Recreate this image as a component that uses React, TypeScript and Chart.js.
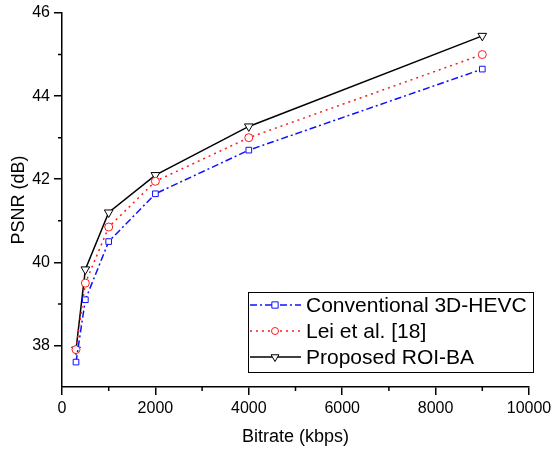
import React, { useEffect, useRef } from "react";
import { Chart, registerables } from "chart.js";

Chart.register(...registerables);

const bitrates = [300, 500, 1000, 2000, 4000, 9000];
const conventional = [37.6, 39.1, 40.5, 41.65, 42.7, 44.65];
const lei = [37.9, 39.5, 40.85, 41.95, 43.0, 45.0];
const proposed = [37.9, 39.83, 41.2, 42.1, 43.27, 45.45];
const seriesNames = ["Conventional 3D-HEVC", "Lei et al. [18]", "Proposed ROI-BA"];
const xMinorTicks = [1000, 3000, 5000, 7000, 9000];
const yMinorTicks = [39, 41, 43, 45];

const FONT = "Arial, 'Liberation Sans', sans-serif";

const styles = [
  { color: "#1010ff", dash: [7, 3, 2, 3], point: "rect", rotation: 0, radius: 4 },
  { color: "#ff1a1a", dash: [2, 4], point: "circle", rotation: 0, radius: 4 },
  { color: "#000000", dash: [], point: "triangle", rotation: 180, radius: 5 },
];

function drawMarker(ctx: CanvasRenderingContext2D, kind: string, x: number, y: number, r: number) {
  ctx.beginPath();
  if (kind === "rect") {
    ctx.rect(x - r * 0.9, y - r * 0.9, r * 1.8, r * 1.8);
  } else if (kind === "circle") {
    ctx.arc(x, y, r, 0, Math.PI * 2);
  } else {
    ctx.moveTo(x, y + r);
    ctx.lineTo(x - r * 0.87, y - r * 0.5);
    ctx.lineTo(x + r * 0.87, y - r * 0.5);
    ctx.closePath();
  }
  ctx.fillStyle = "#fff";
  ctx.fill();
  ctx.stroke();
}

const extras = {
  id: "extras",
  afterDraw(chart: any) {
    const ctx = chart.ctx as CanvasRenderingContext2D;
    const xs = chart.scales.x;
    const ys = chart.scales.y;
    const area = chart.chartArea;
    ctx.save();
    ctx.strokeStyle = "#000";
    ctx.lineWidth = 1.5;
    ctx.beginPath();
    for (const v of xMinorTicks) {
      const px = xs.getPixelForValue(v);
      ctx.moveTo(px, area.bottom);
      ctx.lineTo(px, area.bottom + 4);
    }
    for (const v of yMinorTicks) {
      const py = ys.getPixelForValue(v);
      ctx.moveTo(area.left, py);
      ctx.lineTo(area.left - 4, py);
    }
    ctx.stroke();

    // legend
    const bx = area.right - 281;
    const by = area.bottom - 95;
    const bw = 285;
    const bh = 80;
    ctx.lineWidth = 1;
    ctx.fillStyle = "#fff";
    ctx.fillRect(bx, by, bw, bh);
    ctx.strokeStyle = "#000";
    ctx.strokeRect(bx + 0.5, by + 0.5, bw, bh);
    ctx.font = `21px ${FONT}`;
    ctx.textBaseline = "middle";
    seriesNames.forEach((name, i) => {
      const s = styles[i];
      const cy = by + 13 + i * 26;
      ctx.strokeStyle = s.color;
      ctx.lineWidth = 1.5;
      ctx.setLineDash(s.dash);
      ctx.beginPath();
      ctx.moveTo(bx + 2, cy);
      ctx.lineTo(bx + 53, cy);
      ctx.stroke();
      ctx.setLineDash([]);
      ctx.lineWidth = 1;
      drawMarker(ctx, s.point, bx + 27, cy, s.radius - 0.5);
      ctx.fillStyle = "#000";
      ctx.fillText(name, bx + 58, cy + 1);
    });
    ctx.restore();
  },
};

export default function App() {
  const ref = useRef<HTMLCanvasElement>(null);
  useEffect(() => {
    document.body.style.margin = "0";
    const seriesValues = [conventional, lei, proposed];
    const chart = new Chart(ref.current!, {
      type: "line",
      data: {
        datasets: seriesValues.map((vals, i) => ({
          label: seriesNames[i],
          data: bitrates.map((b, j) => ({ x: b, y: vals[j] })),
          borderColor: styles[i].color,
          backgroundColor: "#ffffff",
          borderDash: styles[i].dash,
          borderWidth: 1.5,
          pointStyle: styles[i].point as any,
          pointRotation: styles[i].rotation,
          pointRadius: styles[i].radius,
          pointBorderWidth: 1,
          pointBackgroundColor: "#ffffff",
          pointBorderColor: styles[i].color,
          tension: 0,
          fill: false,
        })),
      },
      options: {
        animation: false,
        responsive: false,
        layout: { padding: { top: 13, right: 23, left: 0, bottom: 0 } },
        plugins: { legend: { display: false }, tooltip: { enabled: false } },
        scales: {
          x: {
            type: "linear",
            min: 0,
            max: 10000,
            ticks: {
              stepSize: 2000,
              color: "#000",
              font: { size: 16, family: FONT },
              padding: 4,
              maxRotation: 0,
              callback: (v: any) => String(v),
            },
            grid: { drawOnChartArea: false, drawTicks: true, tickLength: 8, color: "#000", lineWidth: 1.5 },
            border: { display: true, color: "#000", width: 1.5 },
            title: { display: true, text: "Bitrate (kbps)", color: "#000", font: { size: 18, family: FONT }, padding: { top: 4, bottom: 3 } },
            afterFit: (s: any) => { s.height = 64; s.paddingLeft = 0; s.paddingRight = 0; },
          },
          y: {
            type: "linear",
            min: 37,
            max: 46,
            ticks: { stepSize: 2, color: "#000", font: { size: 16, family: FONT }, padding: 4, callback: (v: any) => String(v) },
            afterBuildTicks: (s: any) => { s.ticks = s.ticks.filter((t: any) => t.value % 2 === 0); },
            grid: { drawOnChartArea: false, drawTicks: true, tickLength: 8, color: "#000", lineWidth: 1.5 },
            border: { display: true, color: "#000", width: 1.5 },
            title: { display: true, text: "PSNR (dB)", color: "#000", font: { size: 18, family: FONT }, padding: { top: 8, bottom: 4 } },
            afterFit: (s: any) => { s.width = 62; s.paddingTop = 0; s.paddingBottom = 0; },
          },
        },
      },
      plugins: [extras],
    });
    return () => chart.destroy();
  }, []);
  return (
    <div style={{ width: 552, height: 451 }}>
      <canvas ref={ref} width={552} height={451} />
    </div>
  );
}
